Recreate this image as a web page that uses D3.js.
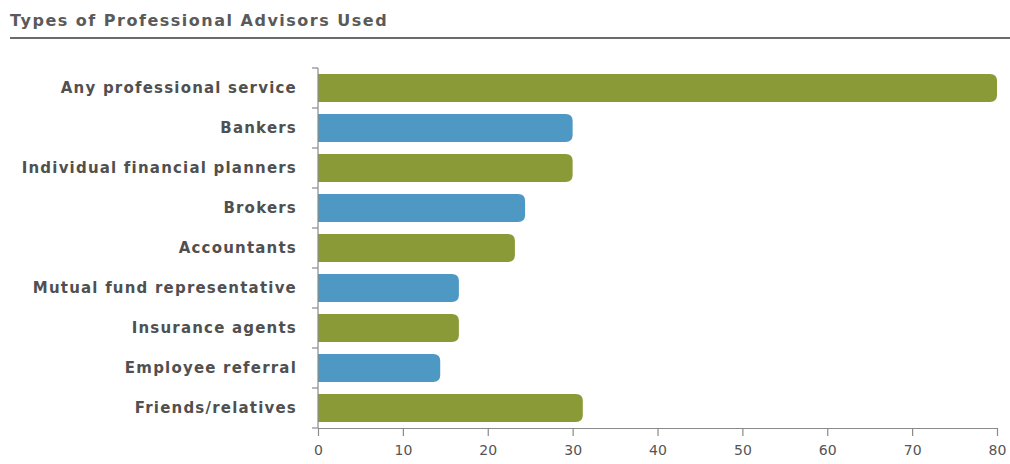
<!DOCTYPE html>
<html>
<head>
<meta charset="utf-8">
<script src="https://cdn.jsdelivr.net/npm/d3@7"></script>
<style>
  body { margin: 0; background: #fff; }
  text { font-family: "DejaVu Sans", sans-serif; }
</style>
</head>
<body>
<svg id="chart"></svg>
<script>
// data
var categories = [
  "Any professional service",
  "Bankers",
  "Individual financial planners",
  "Brokers",
  "Accountants",
  "Mutual fund representative",
  "Insurance agents",
  "Employee referral",
  "Friends/relatives"
];
var values = [80, 30, 30, 24.4, 23.2, 16.6, 16.6, 14.4, 31.2];
var barColors = ["green", "blue", "green", "blue", "green", "blue", "green", "blue", "green"];
var xTicks = [0, 10, 20, 30, 40, 50, 60, 70, 80];

var width = 1010, height = 464;
var margin = { left: 318, right: 13, top: 68, bottom: 36 };
var colorMap = { green: "#8a9a36", blue: "#4e99c3" };

var svg = d3.select("#chart").attr("width", width).attr("height", height);

// title + underline
svg.append("text")
  .attr("x", 10).attr("y", 26)
  .style("font-size", "16px").style("font-weight", "700")
  .style("fill", "#5a5a5a").style("letter-spacing", "1.5px")
  .text("Types of Professional Advisors Used");
svg.append("line")
  .attr("x1", 10).attr("x2", width).attr("y1", 38).attr("y2", 38)
  .style("stroke", "#6b6b6b").style("stroke-width", 2);

var x = d3.scaleLinear().domain([0, 80]).range([margin.left, width - margin.right]);
var y = d3.scaleBand().domain(categories)
  .range([margin.top, height - margin.bottom]).paddingInner(0.3).paddingOuter(0.15);

// bars, square at the axis, rounded at the end
function barPath(x0, x1, y0, h, r) {
  r = Math.min(r, (x1 - x0) / 2);
  return "M" + x0 + "," + y0 +
    "H" + (x1 - r) +
    "Q" + x1 + "," + y0 + " " + x1 + "," + (y0 + r) +
    "V" + (y0 + h - r) +
    "Q" + x1 + "," + (y0 + h) + " " + (x1 - r) + "," + (y0 + h) +
    "H" + x0 + "Z";
}

svg.append("g").selectAll("path")
  .data(categories)
  .enter()
  .append("path")
  .attr("d", (d, i) => barPath(x(0), x(values[i]), y(d), y.bandwidth(), 7))
  .style("fill", (d, i) => colorMap[barColors[i]]);

// y axis: line with ticks between the rows
var rowH = (height - margin.top - margin.bottom) / categories.length;
var gy = svg.append("g");
gy.append("line")
  .attr("x1", x(0)).attr("x2", x(0))
  .attr("y1", margin.top).attr("y2", height - margin.bottom)
  .style("stroke", "#8a8a8a").style("stroke-width", 1.2);
gy.selectAll("line.tk")
  .data(d3.range(categories.length + 1))
  .enter()
  .append("line")
  .attr("class", "tk")
  .attr("x1", x(0) - 6).attr("x2", x(0))
  .attr("y1", i => margin.top + i * rowH)
  .attr("y2", i => margin.top + i * rowH)
  .style("stroke", "#8a8a8a").style("stroke-width", 1.2);

gy.selectAll("text")
  .data(categories)
  .enter()
  .append("text")
  .attr("x", 297)
  .attr("y", d => y(d) + y.bandwidth() / 2)
  .attr("dy", "0.35em")
  .attr("text-anchor", "end")
  .style("font-size", "15px").style("font-weight", "700")
  .style("fill", "#505050").style("letter-spacing", "1.2px")
  .text(d => d);

// x axis
var gx = svg.append("g")
  .attr("transform", "translate(0," + (height - margin.bottom) + ")")
  .call(d3.axisBottom(x).tickValues(xTicks).tickSize(8).tickSizeOuter(0).tickPadding(9));
gx.select(".domain").style("stroke", "#8a8a8a").style("stroke-width", 1.2);
gx.selectAll(".tick line").style("stroke", "#8a8a8a").style("stroke-width", 1.2);
gx.selectAll(".tick text")
  .style("font-size", "14px").style("fill", "#555")
  .style("font-family", "\"DejaVu Sans\", sans-serif");
</script>
</body>
</html>
